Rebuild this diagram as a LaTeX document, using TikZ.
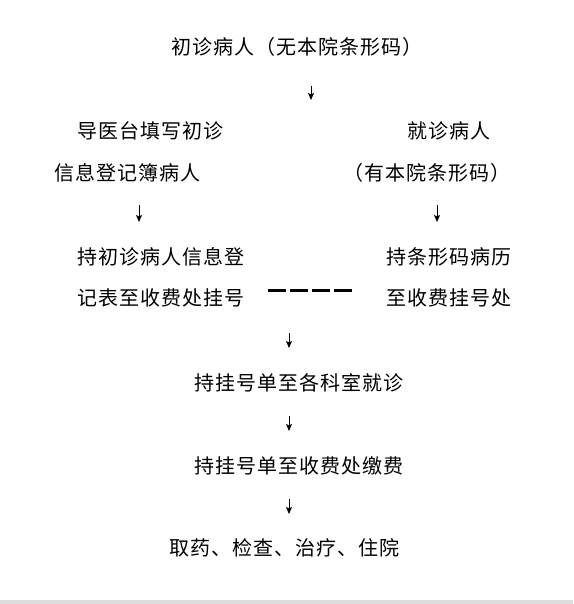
\documentclass[tikz,border=0pt]{standalone}
\usepackage{fontspec}
\newfontfamily\cjk{Noto Sans CJK SC}[LetterSpace=5]
\usetikzlibrary{arrows.meta}
\definecolor{bandgray}{RGB}{221,221,221}

\begin{document}
\begin{tikzpicture}[x=1pt,y=-1pt,
  txt/.style={inner sep=0pt,font=\cjk\fontsize{20}{24}\selectfont},
  arr/.style={line width=1pt,-{Stealth[length=7pt,width=6pt,inset=1.5pt]}}]
  \def\W{573}
  \def\H{604}
  \useasboundingbox (0,0) rectangle (\W,\H);
  \fill[white] (0,0) rectangle (\W,600);
  \fill[bandgray] (0,600) rectangle (\W,\H);

%texts:
  \node[txt] (start) at (297,47) {初诊病人（无本院条形码）};
  \node[txt] (newA) at (150,131) {导医台填写初诊};
  \node[txt] (newB) at (127.5,173) {信息登记簿病人};
  \node[txt] (oldA) at (449,131) {就诊病人};
  \node[txt] (oldB) at (427,173) {（有本院条形码）};
  \node[txt] (regA) at (160.5,257) {持初诊病人信息登};
  \node[txt] (regB) at (160.5,298) {记表至收费处挂号};
  \node[txt] (barA) at (449,257) {持条形码病历};
  \node[txt] (barB) at (449,298) {至收费挂号处};
  \node[txt] (dept) at (298.5,383) {持挂号单至各科室就诊};
  \node[txt] (pay) at (298.5,466) {持挂号单至收费处缴费};
  \node[txt] (done) at (284,548) {取药、检查、治疗、住院};
%%%%%%

%arrows:
  \coordinate (a1s) at (311,86);  \coordinate (a1e) at (311,100);
  \coordinate (a2s) at (139,205); \coordinate (a2e) at (139,222);
  \coordinate (a3s) at (437,205); \coordinate (a3e) at (437,222);
  \coordinate (a4s) at (289,333); \coordinate (a4e) at (289,348);
  \coordinate (a5s) at (289,416); \coordinate (a5e) at (289,431);
  \coordinate (a6s) at (289,499); \coordinate (a6e) at (289,514);
  \foreach \i in {1,...,6}
    \draw[arr] (a\i s) -- (a\i e);

  \coordinate (dl) at (268,290); \coordinate (dr) at (352,290);
  \draw[line width=3pt,dash pattern=on 18pt off 4pt] (dl) -- (dr);
\end{tikzpicture}
\end{document}
